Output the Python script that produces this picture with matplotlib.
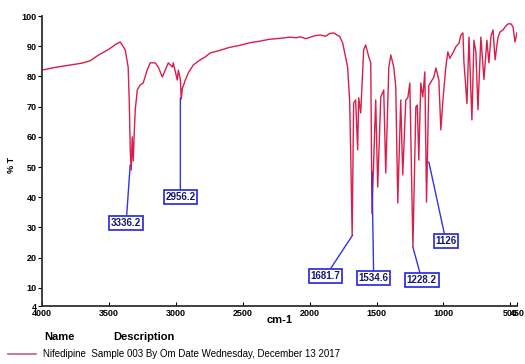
import matplotlib
matplotlib.use("Agg")
import matplotlib.pyplot as plt
from matplotlib.lines import Line2D

# spectrum: wavenumber (cm-1) and %T
wavenumber = [4000, 3900, 3800, 3700, 3640, 3580, 3500, 3450, 3416, 3378, 3356, 3348,
              3340, 3333, 3326, 3318, 3310, 3303, 3288, 3266, 3244, 3214, 3191, 3154,
              3131, 3101, 3079, 3056, 3026, 3019, 2989, 2981, 2966, 2959, 2951, 2929,
              2906, 2869, 2839, 2817, 2779, 2742, 2680, 2600, 2520, 2442, 2380, 2300,
              2220, 2150, 2100, 2068, 2030, 2000, 1960, 1918, 1880, 1850, 1820, 1805,
              1775, 1753, 1716, 1701, 1693, 1682, 1671, 1656, 1641, 1633, 1618, 1596,
              1581, 1558, 1543, 1534, 1506, 1491, 1468, 1446, 1431, 1408, 1393, 1371,
              1356, 1341, 1319, 1304, 1281, 1266, 1251, 1228, 1206, 1195, 1184, 1169,
              1154, 1139, 1126, 1109, 1071, 1056, 1034, 1019, 1004, 982, 967, 952,
              929, 907, 884, 869, 854, 847, 824, 809, 787, 772, 757, 742, 720, 697,
              675, 660, 644, 629, 614, 592, 577, 554, 539, 517, 495, 480, 465, 450]
transmittance = [82.1, 83.0, 83.7, 84.4, 85.2, 87.0, 89.0, 90.6, 91.4, 88.8, 83.0, 72.0,
                 55.0, 49.0, 60.0, 52.0, 62.0, 69.0, 75.5, 77.2, 77.8, 82.1, 84.5, 84.5,
                 83.1, 79.8, 82.1, 84.5, 83.1, 84.5, 78.8, 82.1, 79.0, 72.5, 76.0, 78.8,
                 81.2, 83.8, 84.8, 85.5, 86.5, 87.8, 88.5, 89.6, 90.3, 91.2, 91.6, 92.3,
                 92.6, 93.0, 92.8, 93.1, 92.5, 92.9, 93.5, 93.7, 93.3, 94.2, 94.4, 94.0,
                 93.2, 91.1, 83.1, 72.2, 55.0, 27.5, 71.2, 72.2, 55.7, 72.9, 67.9, 88.8,
                 90.4, 86.5, 84.5, 34.5, 72.2, 43.4, 73.2, 75.5, 48.0, 83.1, 87.1, 83.1,
                 76.5, 38.1, 72.2, 47.4, 72.2, 72.9, 77.8, 23.5, 69.9, 70.5, 52.3, 77.8,
                 73.2, 81.5, 38.4, 77.0, 79.8, 82.8, 78.8, 62.3, 72.0, 83.1, 88.1, 86.0,
                 87.8, 89.8, 91.0, 93.7, 94.4, 85.0, 71.0, 93.0, 65.6, 92.0, 88.0, 69.0,
                 93.0, 79.0, 92.0, 84.5, 93.5, 95.4, 85.5, 93.0, 94.7, 95.4, 96.4, 97.4,
                 97.4, 96.4, 91.4, 94.5]

# peak labels: text, point on the curve, label position
peak_labels = ["3336.2", "2956.2", "1681.7", "1534.6", "1228.2", "1126"]
peak_points = [(3341, 50.7), (2966, 72.9), (1678, 27.5), (1534, 48.4), (1228, 23.5), (1109, 51.7)]
label_points = [(3371, 31.5), (2966, 40.1), (1880, 13.9), (1521, 13.3), (1161, 12.6), (981, 25.5)]

xticks = [4000, 3500, 3000, 2500, 2000, 1500, 1000, 500, 450]
yticks = [4, 10, 20, 30, 40, 50, 60, 70, 80, 90, 100]

plt.rcParams['font.family'] = ['Liberation Sans Narrow', 'Liberation Sans', 'DejaVu Sans']

red = '#d81e4a'
blue = '#3434e0'

fig = plt.figure(figsize=(5.25, 3.64), dpi=100)
ax = fig.add_axes([42 / 525, 1 - 306 / 364, 475 / 525, 290 / 364])

ax.plot(wavenumber, transmittance, color=red, lw=1.0)

for txt, pt, lp in zip(peak_labels, peak_points, label_points):
    ax.annotate(txt, xy=pt, xytext=lp, ha='center', va='center',
                fontsize=7, fontweight='bold', color='#16166a',
                bbox=dict(boxstyle='square,pad=0.18', fc='white', ec=blue, lw=1.3),
                arrowprops=dict(arrowstyle='-', color=blue, lw=1.0,
                                shrinkA=0, shrinkB=0))

ax.set_xlim(4000, 450)
ax.set_ylim(4, 100)
ax.set_xticks(xticks)
ax.set_xticklabels([str(t) for t in xticks], fontsize=6.5, fontweight='bold')
ax.set_yticks(yticks)
ax.set_yticklabels([str(t) for t in yticks], fontsize=6.5, fontweight='bold')
ax.tick_params(axis='x', direction='in', length=3, pad=2)
ax.tick_params(axis='y', direction='out', length=3, pad=1)
for s in ['top', 'right']:
    ax.spines[s].set_visible(False)
for s in ['left', 'bottom']:
    ax.spines[s].set_linewidth(1.3)
    ax.spines[s].set_color('#303030')

fig.text(12 / 525, 1 - 165 / 364, '% T', rotation=90, ha='center', va='center',
         fontsize=6.5, fontweight='bold')
fig.text(280 / 525, 1 - 320 / 364, 'cm-1', ha='center', va='center',
         fontsize=8, fontweight='bold')

fig.text(44 / 525, 1 - 337 / 364, 'Name', ha='left', va='center',
         fontsize=8, fontweight='bold')
fig.text(113 / 525, 1 - 337 / 364, 'Description', ha='left', va='center',
         fontsize=8, fontweight='bold')
fig.add_artist(Line2D([8 / 525, 36 / 525], [1 - 354 / 364, 1 - 354 / 364],
                      color='#c8607a', lw=1.2))
fig.text(43 / 525, 1 - 354 / 364,
         'Nifedipine  Sample 003 By Om Date Wednesday, December 13 2017',
         ha='left', va='center', fontsize=7)

fig.savefig('out.png', dpi=100)
